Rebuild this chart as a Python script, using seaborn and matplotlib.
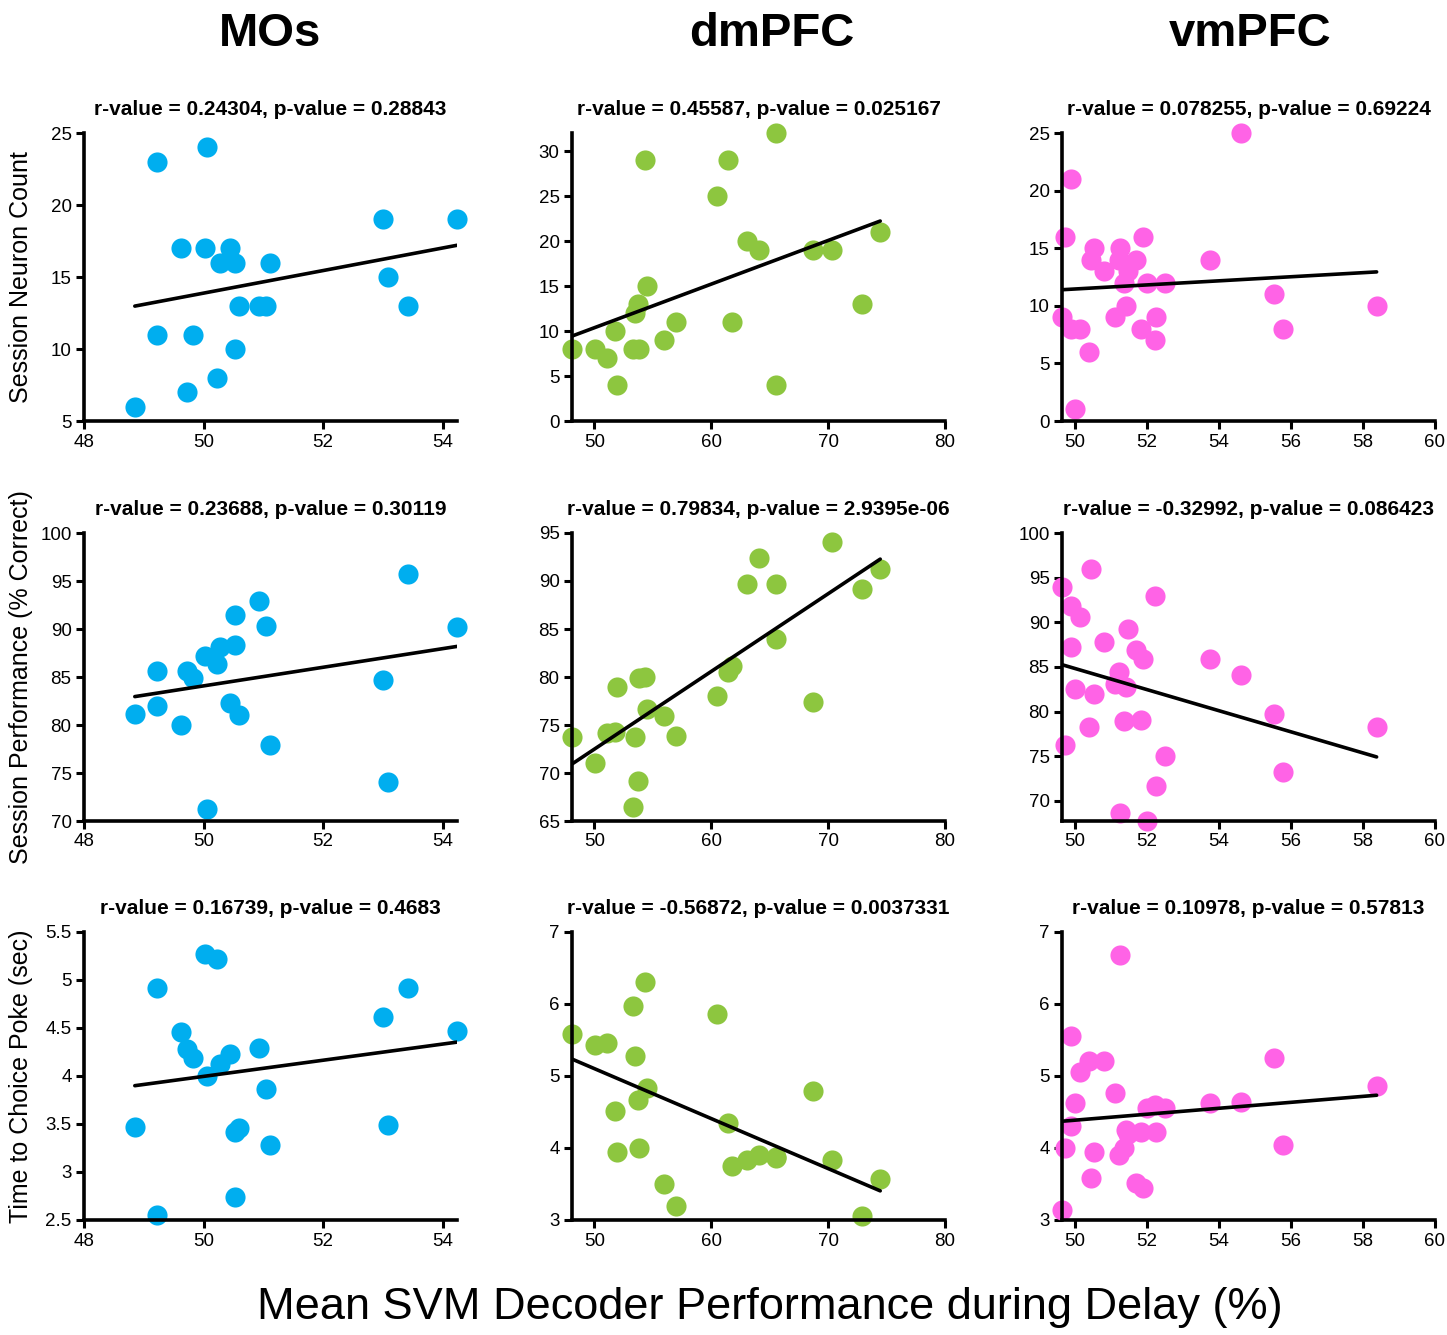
import matplotlib
matplotlib.use("Agg")
import matplotlib.pyplot as plt
import matplotlib.ticker as mticker
import numpy as np
import pandas as pd
import seaborn as sns

# region names / colours
regions = ["MOs", "dmPFC", "vmPFC"]
colors = ["#00AEEF", "#8DC63F", "#FF63E6"]

# MOs sessions
mos_x = [48.85, 49.22, 49.22, 49.62, 49.73, 49.82, 50.03, 50.06, 50.22, 50.27, 50.45,
         50.53, 50.53, 50.60, 50.93, 51.04, 51.11, 53.00, 53.09, 53.42, 54.24]
mos_count = [6, 23, 11, 17, 7, 11, 17, 24, 8, 16, 17, 16, 10, 13, 13, 13, 16, 19, 15, 13, 19]
mos_perf = [81.1, 85.6, 82.0, 80.0, 85.6, 84.9, 87.2, 71.3, 86.4, 88.1, 82.3, 91.5, 88.3,
            81.0, 92.9, 90.3, 77.9, 84.65, 74.1, 95.7, 90.2]
mos_time = [3.47, 4.92, 2.55, 4.46, 4.28, 4.19, 5.27, 4.00, 5.22, 4.13, 4.23, 3.42, 2.74,
            3.46, 4.29, 3.86, 3.28, 4.61, 3.49, 4.92, 4.47]

# dmPFC sessions
dm_x = [48.14, 50.09, 51.09, 51.74, 51.91, 53.28, 53.46, 53.72, 53.84, 54.34, 54.49, 56.0,
        57.0, 60.49, 61.43, 61.8, 63.03, 64.09, 65.57, 65.57, 68.68, 70.34, 72.89, 74.46]
dm_count = [8, 8, 7, 10, 4, 8, 12, 13, 8, 29, 15, 9, 11, 25, 29, 11, 20, 19, 32, 4, 19, 19, 13, 21]
dm_perf = [73.8, 71.0, 74.2, 74.3, 79.0, 66.5, 73.7, 69.2, 79.9, 80.0, 76.7, 75.9, 73.9,
           78.05, 80.5, 81.1, 89.7, 92.4, 89.7, 84.0, 77.4, 94.1, 89.2, 91.2]
dm_time = [5.59, 5.43, 5.46, 4.52, 3.95, 5.97, 5.28, 4.66, 4.0, 6.3, 4.83, 3.5, 3.19, 5.86,
           4.35, 3.75, 3.84, 3.9, 3.88, 3.86, 4.79, 3.84, 3.06, 3.57]

# vmPFC sessions
vm_x = [49.65, 49.74, 49.89, 49.89, 50.0, 50.16, 50.4, 50.46, 50.54, 50.81, 51.11, 51.23,
        51.27, 51.36, 51.42, 51.48, 51.69, 51.83, 51.9, 52.02, 52.23, 52.27, 52.5, 53.75,
        54.63, 55.53, 55.77, 58.38]
vm_count = [9, 16, 21, 8, 1, 8, 6, 14, 15, 13, 9, 14, 15, 12, 10, 13, 14, 8, 16, 12, 7, 9,
            12, 14, 25, 11, 8, 10]
vm_perf = [93.9, 76.3, 87.25, 91.8, 82.5, 90.6, 78.3, 96.0, 82.0, 87.8, 83.1, 84.4, 68.7,
           78.9, 82.8, 89.2, 86.9, 79.1, 85.9, 67.75, 92.9, 71.7, 75.06, 85.9, 84.06, 79.7,
           73.26, 78.3]
vm_time = [3.14, 4.0, 5.56, 4.31, 4.63, 5.06, 5.21, 3.58, 3.95, 5.21, 4.76, 3.9, 6.68, 4.0,
           4.25, 4.2, 3.52, 4.22, 3.44, 4.55, 4.6, 4.22, 4.55, 4.62, 4.64, 5.25, 4.045, 4.86]

ylabels = ["Session Neuron Count", "Session Performance (% Correct)",
           "Time to Choice Poke (sec)"]
titles = [
    ["r-value = 0.24304, p-value = 0.28843", "r-value = 0.45587, p-value = 0.025167",
     "r-value = 0.078255, p-value = 0.69224"],
    ["r-value = 0.23688, p-value = 0.30119", "r-value = 0.79834, p-value = 2.9395e-06",
     "r-value = -0.32992, p-value = 0.086423"],
    ["r-value = 0.16739, p-value = 0.4683", "r-value = -0.56872, p-value = 0.0037331",
     "r-value = 0.10978, p-value = 0.57813"],
]
xlabel = "Mean SVM Decoder Performance during Delay (%)"

xs = [mos_x, dm_x, vm_x]
ys = [[mos_count, dm_count, vm_count],
      [mos_perf, dm_perf, vm_perf],
      [mos_time, dm_time, vm_time]]

xlims = [(48, 54.24), (48.1, 80), (49.65, 60)]
xticks = [[48, 50, 52, 54], [50, 60, 70, 80], [50, 52, 54, 56, 58, 60]]
ylims = [[(5, 25), (0, 32), (0, 25)],
         [(70, 100), (65, 95), (67.75, 100)],
         [(2.5, 5.5), (3, 7), (3, 7)]]
yticks = [[np.arange(5, 26, 5), np.arange(0, 31, 5), np.arange(0, 26, 5)],
          [np.arange(70, 101, 5), np.arange(65, 96, 5), np.arange(70, 101, 5)],
          [np.arange(2.5, 5.6, 0.5), np.arange(3, 8, 1), np.arange(3, 8, 1)]]

sns.set_style("ticks")
plt.rcParams["font.family"] = ["Liberation Sans", "DejaVu Sans"]
plt.rcParams["text.color"] = "black"
plt.rcParams["axes.labelcolor"] = "black"
plt.rcParams["axes.edgecolor"] = "black"

W, H = 1447, 1335
fig = plt.figure(figsize=(W / 100, H / 100), dpi=100)

lefts = [84, 572, 1062]
tops = [133, 533, 932]
aw, ah = 373, 288

for r in range(3):
    for c in range(3):
        ax = fig.add_axes([lefts[c] / W, 1 - (tops[r] + ah) / H, aw / W, ah / H])
        df = pd.DataFrame({"x": xs[c], "y": ys[r][c]})
        sns.regplot(data=df, x="x", y="y", ax=ax, ci=None, color=colors[c],
                    scatter_kws={"s": 210, "alpha": 1, "linewidths": 0, "zorder": 2,
                                 "clip_on": False},
                    line_kws={"color": "black", "lw": 2.6, "zorder": 3})
        ax.set_xlim(*xlims[c])
        ax.set_ylim(*ylims[r][c])
        ax.set_xticks(xticks[c])
        ax.set_yticks(yticks[r][c])
        ax.yaxis.set_major_formatter(mticker.FormatStrFormatter("%g"))
        ax.set_xlabel("")
        ax.set_ylabel("")
        ax.set_title(titles[r][c], fontsize=15, fontweight="bold", pad=13)
        for s in ["top", "right"]:
            ax.spines[s].set_visible(False)
        for s in ["left", "bottom"]:
            ax.spines[s].set_linewidth(2.6)
            ax.spines[s].set_color("black")
        ax.tick_params(direction="out", length=6, width=2.2, labelsize=13.5,
                       colors="black", pad=3)
        if c == 0:
            ax.set_ylabel(ylabels[r], fontsize=18)
            ax.yaxis.set_label_coords(-0.137, 0.5)

# column headers
head_x = [270, 772, 1250]
for c in range(3):
    fig.text(head_x[c] / W, 1 - 34 / H, regions[c], fontsize=34, fontweight="bold",
             ha="center", va="center")

fig.text(770 / W, 1 - 1307 / H, xlabel, fontsize=32.5, ha="center", va="center")

fig.savefig("out.png", dpi=100, facecolor="white")
